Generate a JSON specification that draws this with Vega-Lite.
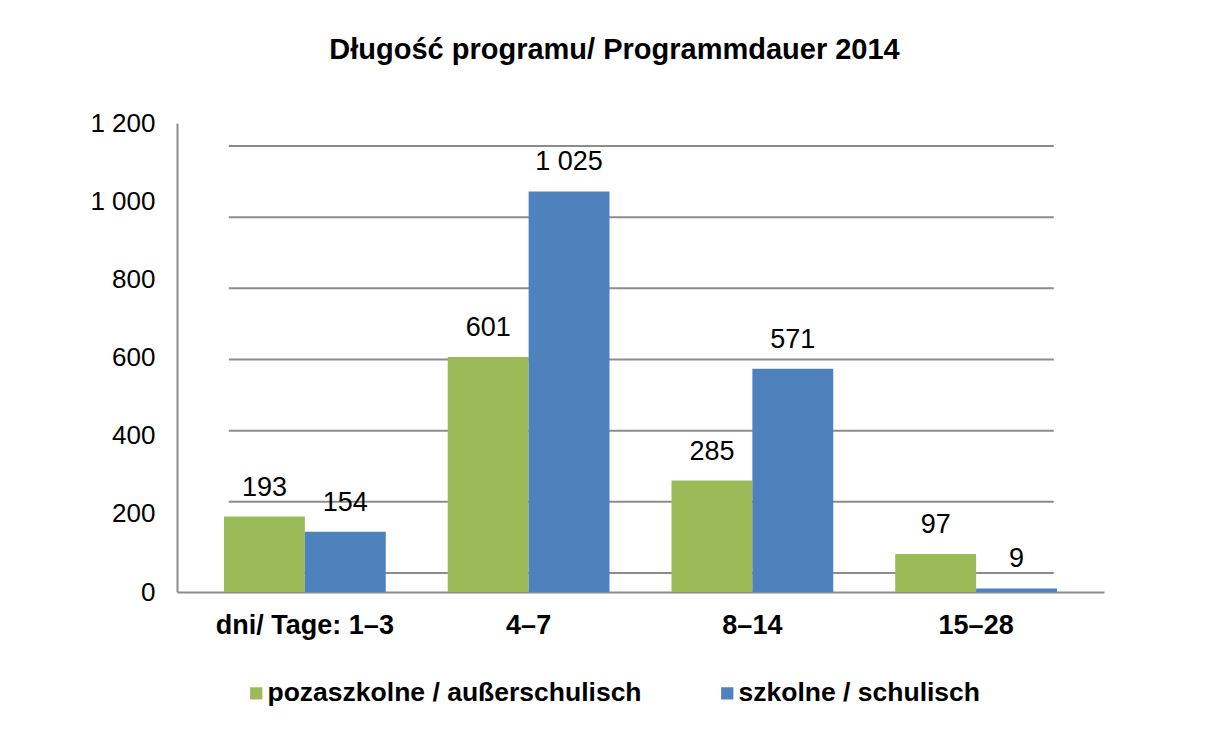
{
  "$schema": "https://vega.github.io/schema/vega-lite/v6.json",
  "width": 927,
  "height": 469,
  "padding": {"left": 89, "top": 36, "right": 20, "bottom": 10},
  "background": "white",
  "title": {
    "text": "Długość programu/ Programmdauer 2014",
    "font": "Liberation Sans",
    "fontSize": 29,
    "fontWeight": "bold",
    "color": "black",
    "anchor": "middle",
    "frame": "group",
    "dx": -26,
    "offset": 45
  },
  "datasets": {
    "bars": [
      {"dni": "dni/ Tage: 1–3", "typ": "pozaszkolne / außerschulisch", "n": 193},
      {"dni": "dni/ Tage: 1–3", "typ": "szkolne / schulisch", "n": 154},
      {"dni": "4–7", "typ": "pozaszkolne / außerschulisch", "n": 601},
      {"dni": "4–7", "typ": "szkolne / schulisch", "n": 1025},
      {"dni": "8–14", "typ": "pozaszkolne / außerschulisch", "n": 285},
      {"dni": "8–14", "typ": "szkolne / schulisch", "n": 571},
      {"dni": "15–28", "typ": "pozaszkolne / außerschulisch", "n": 97},
      {"dni": "15–28", "typ": "szkolne / schulisch", "n": 9}
    ],
    "grid": [
      {"v": 0}, {"v": 200}, {"v": 400}, {"v": 600}, {"v": 800}, {"v": 1000}, {"v": 1200}
    ]
  },
  "layer": [
    {
      "data": {"name": "grid"},
      "mark": {"type": "rule", "color": "#8c8c8c", "strokeWidth": 2},
      "encoding": {
        "y": {"field": "v", "type": "quantitative", "scale": {"domain": [-53.4, 1264.6], "nice": false, "zero": false}, "axis": null},
        "x": {"datum": "dni/ Tage: 1–3", "type": "nominal", "bandPosition": 0.03},
        "x2": {"datum": "15–28", "bandPosition": 0.98}
      }
    },
    {
      "data": {"name": "bars"},
      "mark": {"type": "bar"},
      "encoding": {
        "x": {
          "field": "dni", "type": "nominal",
          "scale": {"domain": ["dni/ Tage: 1–3", "4–7", "8–14", "15–28"], "paddingInner": 0.277, "paddingOuter": 0.21},
          "axis": {
            "title": null, "labelAngle": 0, "labelAlign": "center", "labelBaseline": "top",
            "labelFontSize": 27, "labelFontWeight": "bold",
            "labelFont": "Liberation Sans", "labelColor": "black", "labelPadding": 20,
            "ticks": false, "domainColor": "#8c8c8c", "domainWidth": 2, "labelLimit": 400,
            "labelOverlap": false
          }
        },
        "xOffset": {"field": "typ", "type": "nominal", "scale": {"paddingInner": 0, "paddingOuter": 0}},
        "y": {
          "field": "n", "type": "quantitative",
          "scale": {"domain": [0, 1200], "nice": false},
          "axis": {
            "title": null, "values": [0, 200, 400, 600, 800, 1000, 1200], "format": ",d",
            "labelFontSize": 26, "labelFont": "Liberation Sans", "labelColor": "black",
            "labelPadding": 22, "ticks": false, "grid": false,
            "domainColor": "#8c8c8c", "domainWidth": 2
          }
        },
        "color": {
          "field": "typ", "type": "nominal",
          "scale": {"domain": ["pozaszkolne / außerschulisch", "szkolne / schulisch"], "range": ["#9BBB59", "#4F81BD"]},
          "legend": {
            "title": null, "orient": "none", "legendX": 66, "legendY": 557,
            "direction": "horizontal", "columns": 2,
            "columnPadding": 72, "symbolType": "square", "symbolSize": 150, "symbolStrokeWidth": 0,
            "labelFontSize": 26.5, "labelFontWeight": "bold", "labelFont": "Liberation Sans",
            "labelColor": "black", "labelLimit": 500, "labelOffset": -2
          }
        }
      }
    },
    {
      "data": {"name": "bars"},
      "mark": {"type": "text", "fontSize": 27, "font": "Liberation Sans", "color": "black", "baseline": "alphabetic", "dy": -21},
      "encoding": {
        "x": {"field": "dni", "type": "nominal"},
        "xOffset": {"field": "typ", "type": "nominal"},
        "y": {"field": "n", "type": "quantitative", "scale": {"domain": [0, 1200], "nice": false}, "axis": null},
        "text": {"field": "n", "type": "quantitative", "format": ",d"}
      }
    }
  ],
  "resolve": {"scale": {"y": "independent"}},
  "config": {
    "locale": {"number": {"decimal": ",", "thousands": " ", "grouping": [3], "currency": ["", " zł"]}},
    "view": {"stroke": null},
    "font": "Liberation Sans"
  }
}
